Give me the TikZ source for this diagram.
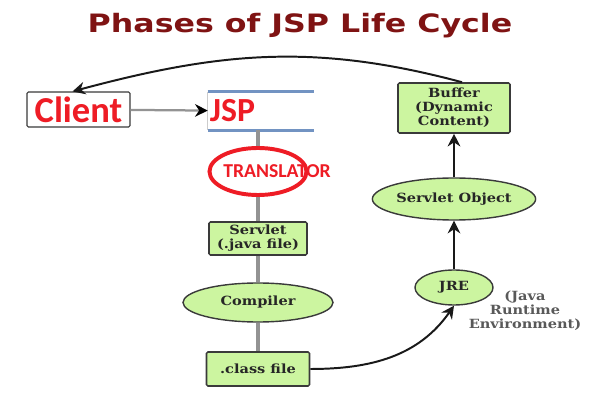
\documentclass[tikz,border=0pt]{standalone}
\usepackage{fontspec}
\usetikzlibrary{shapes.geometric,arrows.meta}
\newfontfamily\titlefont[FakeStretch=1.25]{DejaVu Sans}
\newfontfamily\calfont{Carlito}
\newfontfamily\boxfont[FakeStretch=1.15]{DejaVu Serif}
\definecolor{titlered}{HTML}{7F1313}
\definecolor{brightred}{HTML}{EE1C25}
\definecolor{jspblue}{HTML}{7293C2}
\definecolor{boxgreen}{HTML}{CCF5A0}
\definecolor{edgegray}{HTML}{3A3A3A}
\tikzset{
  greenbox/.style={draw=edgegray, line width=1.1pt, fill=boxgreen, rounded corners=1pt,
    inner sep=0pt, align=center, text=black!85,
    font=\boxfont\bfseries\fontsize{9}{10}\selectfont},
  greenoval/.style={ellipse, draw=edgegray, line width=1pt, fill=boxgreen,
    inner sep=0pt, text=black!85, font=\boxfont\bfseries\fontsize{9}{10}\selectfont},
  redtext/.style={text=brightred, font=\calfont\bfseries},
  grayline/.style={draw=gray!85, line width=2.2pt},
  flow/.style={draw=black!90, line width=1.4pt, -{Stealth[length=9pt,width=9pt]}},
}
\begin{document}
\begin{tikzpicture}[x=0.025cm, y=-0.025cm]
  % 画布
  \useasboundingbox (0,0) rectangle (600,400);

  % 标题
  \node[text=titlered, font=\titlefont\bfseries\fontsize{18}{20}\selectfont] (title) at (300,26) {Phases of JSP Life Cycle};

  % 左列: Client, JSP, TRANSLATOR
  \node[redtext, draw=edgegray, line width=0.8pt, rounded corners=1pt, fill=white,
    minimum width=2.575cm, minimum height=0.875cm, inner sep=0pt,
    font=\calfont\bfseries\fontsize{26}{28}\selectfont] (client) at (78.5,109.5) {Client};
  \node[redtext, minimum height=0.95cm, text width=2.55cm, inner xsep=0.05cm, align=left,
    font=\calfont\bfseries\fontsize{24}{26}\selectfont] (jsp) at (261,111) {JSP};
  \draw[gray!40, line width=0.8pt] (jsp.north west) -- (jsp.south west);
  \draw[jspblue, line width=2pt] (jsp.north west) -- (jsp.north east);
  \draw[jspblue, line width=2pt] (jsp.south west) -- (jsp.south east);
  \node[ellipse, draw=brightred, line width=2.8pt, minimum width=2.425cm, minimum height=1.175cm] (transl) at (258,171.5) {};
  \node[redtext, font=\calfont\bfseries\fontsize{14}{16}\selectfont] (transltxt) at (277,171) {TRANSLATOR};

  % 左列: 绿色方框和椭圆
  \node[greenbox, minimum width=2.45cm, minimum height=0.825cm] (servlet) at (258,238.5) {Servlet\\(.java file)};
  \node[greenoval, minimum width=3.75cm, minimum height=0.975cm] (compiler) at (258,302.5) {Compiler};
  \node[greenbox, minimum width=2.575cm, minimum height=0.85cm] (classfile) at (258,369) {.class file};

  % 右列
  \node[greenoval, minimum width=1.95cm, minimum height=0.875cm] (jre) at (454,287.5) {JRE};
  \node[align=center, text=black!65, font=\boxfont\bfseries\fontsize{9}{10}\selectfont] (jrenote) at (525,311) {(Java\\Runtime\\Environment)};
  \node[greenoval, minimum width=3.825cm, minimum height=1.05cm] (servobj) at (454,199) {Servlet Object};
  \node[greenbox, minimum width=2.8cm, minimum height=1.25cm] (buffer) at (454,108) {Buffer\\(Dynamic\\Content)};

  % 连线
  \draw[grayline, line width=1.6pt, -{Stealth[length=9pt,width=9pt,color=black]}] (client) -- (jsp);
  \draw[grayline] (jsp.south -| transl) -- (transl.north);
  \draw[grayline] (transl.south) -- (servlet.north);
  \draw[grayline] (servlet.south) -- (compiler.north);
  \draw[grayline] (compiler.south) -- (classfile.north);
  \draw[flow] (classfile.east) to[out=0, in=235] (jre.south);
  \draw[flow] (jre.north) -- (servobj.south);
  \draw[flow] (servobj.north) -- (buffer.south);
  \draw[flow] ([xshift=0.2cm]buffer.north) to[out=165, in=15] ([xshift=-0.15cm]client.north);
\end{tikzpicture}
\end{document}
